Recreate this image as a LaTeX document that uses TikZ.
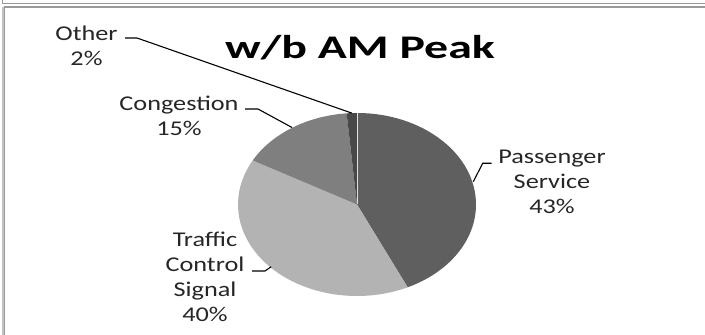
\documentclass[tikz,border=0pt]{standalone}
\usepackage{fontspec}
\newfontfamily\lblfont[FakeStretch=1.25]{Carlito}
\newfontfamily\ttlfont[FakeStretch=1.45]{Carlito}
\definecolor{psg}{HTML}{5F5F5F}
\definecolor{trf}{HTML}{B3B3B3}
\definecolor{cng}{HTML}{7F7F7F}
\definecolor{oth}{HTML}{484848}
\definecolor{frm}{HTML}{9A9A9A}
\begin{document}
\begin{tikzpicture}[x=1pt,y=1pt,
  lbl/.style={font=\lblfont\fontsize{21}{25}\selectfont, text=black!85, align=center, inner sep=0pt},
  leader/.style={draw=black, line width=1.1pt},
  framel/.style={draw=frm, line width=1pt}]
\useasboundingbox (0,0) rectangle (705,335);
% frame lines
\draw[framel] (2.5,335) -- (2.5,331.5) -- (705,331.5);
\draw[framel, line width=1.2pt] (705,328) -- (4.5,328) -- (4.5,0);
\draw[draw=frm!60, line width=1.5pt] (2.8,327.5) -- (2.8,0);
% pie
\coordinate (c) at (357,130.5);
\begin{scope}[shift={(c)}]
  \fill[psg] (0,0) -- (90:119 and 91.5) arc[start angle=90, end angle=-64.8, x radius=119, y radius=91.5] -- cycle;
  \fill[trf] (0,0) -- (-64.8:119 and 91.5) arc[start angle=-64.8, end angle=-208.8, x radius=119, y radius=91.5] -- cycle;
  \fill[cng] (0,0) -- (151.2:119 and 91.5) arc[start angle=151.2, end angle=95, x radius=119, y radius=91.5] -- cycle;
  \fill[oth] (0,0) -- (95:119 and 91.5) arc[start angle=95, end angle=90, x radius=119, y radius=91.5] -- cycle;
  \draw[white!75!gray, line width=0.6pt] (0,0) -- (90:91.5);
\end{scope}
% title
\node[font=\ttlfont\bfseries\fontsize{33}{40}\selectfont, anchor=base, inner sep=0pt] (title) at (360,276.5) {w/b AM Peak};
% labels
\node[lbl] (other) at (86.5,289) {Other\\2\%};
\node[lbl] (cong) at (179,219) {Congestion\\15\%};
\node[lbl] (pass) at (552,153) {Passenger\\Service\\43\%};
\node[lbl] (traf) at (205,58) {Traffic\\Control\\Signal\\40\%};
% leader lines
\coordinate (oA) at (125,297);
\coordinate (oB) at (137,297);
\coordinate (oP) at (351.8,221.9);
\coordinate (cA) at (245,226);
\coordinate (cB) at (258,226);
\coordinate (cP) at (292,207.5);
\coordinate (pA) at (491.7,171.7);
\coordinate (pB) at (482.7,171.7);
\coordinate (pP) at (473.3,153.3);
\coordinate (tA) at (252,64);
\coordinate (tB) at (265,64);
\coordinate (tP) at (271.2,68.3);
\draw[leader] (oA) -- (oB) -- (oP);
\draw[leader] (cA) -- (cB) -- (cP);
\draw[leader] (pA) -- (pB) -- (pP);
\draw[leader] (tA) -- (tB) -- (tP);
\end{tikzpicture}
\end{document}
